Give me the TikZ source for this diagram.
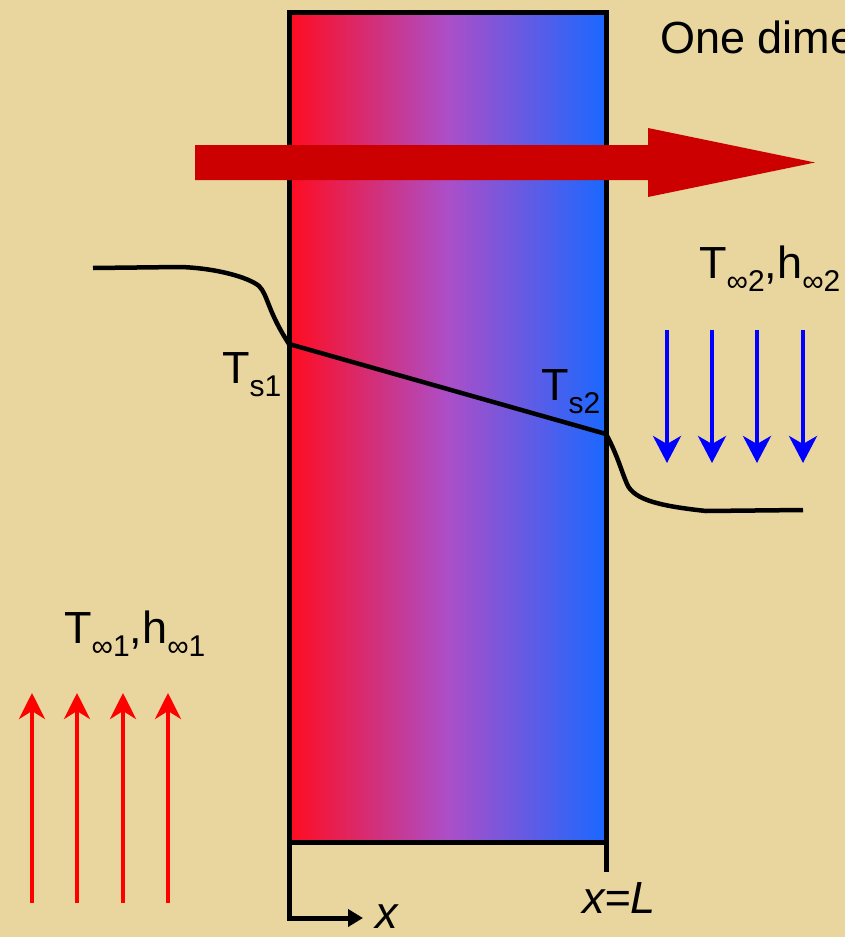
\documentclass[tikz,border=0pt]{standalone}
\usepackage{fontspec}
\setmainfont{Liberation Sans}
\usetikzlibrary{arrows.meta}
\definecolor{parch}{RGB}{233,214,158}
\definecolor{slabred}{RGB}{255,12,32}
\definecolor{slabmid}{RGB}{172,78,200}
\definecolor{slabblue}{RGB}{26,104,255}
\definecolor{flowred}{RGB}{204,0,0}
\definecolor{hotred}{RGB}{255,0,0}
\definecolor{coldblue}{RGB}{0,0,255}
\newcommand\lowsub[1]{\raisebox{-13pt}{\fontsize{30}{30}\selectfont #1}}
\begin{document}
\begin{tikzpicture}[x=1pt,y=-1pt,
  lbl/.style={inner sep=0pt, anchor=base west, font=\fontsize{45}{54}\selectfont},
  hotarrow/.style={draw=hotred, line width=4pt, -{Stealth[length=26pt,width=26pt,inset=8pt]}},
  coldarrow/.style={draw=coldblue, line width=4pt, -{Stealth[length=27pt,width=28pt,inset=8pt]}},
  profile/.style={draw=black, line width=4.5pt, line join=round},
  frame/.style={draw=black, line width=5pt}]
\fill[parch] (0,0) rectangle (845,937);
\useasboundingbox (0,0) rectangle (845,937);
% slab
\shade[left color=slabred, right color=slabblue, middle color=slabmid] (289,12) rectangle (606,842);
\draw[frame] (289,12) rectangle (606,842);
% axis
\coordinate (o) at (289,842);
\coordinate (ob) at (289,918);
\coordinate (xe) at (363,918);
\coordinate (lr) at (606,842);
\coordinate (lb) at (606,872);
\draw[frame, line join=miter, -{Triangle[length=15pt,width=17pt]}] (o) -- (ob) -- (xe);
\draw[frame] (lr) -- (lb);
% heat flow arrow
\fill[flowred] (195,145) -- (648,145) -- (648,128) -- (815,162.5) -- (648,197) -- (648,180) -- (195,180) -- cycle;
% temperature profile
\coordinate (s1) at (289,344);
\coordinate (s2) at (606,434);
\draw[profile] (93,268) -- (180,267) .. controls (215,268) and (248,277) .. (259,286)
  .. controls (268,295) and (267,310) .. (s1) -- (s2)
  .. controls (617,454) and (621,470) .. (627,484)
  .. controls (634,500) and (660,506) .. (706,511) -- (803,510);
% labels
\node[lbl] (title) at (660,53) {One dime};
\node[lbl] (ts1) at (222,383) {T\lowsub{s1}};
\node[lbl] (ts2) at (541,400) {T\lowsub{s2}};
\node[lbl] (tinf2) at (699,278) {T\lowsub{∞2},h\lowsub{∞2}};
\node[lbl] (tinf1) at (64,643) {T\lowsub{∞1},h\lowsub{∞1}};
\node[lbl, font=\fontsize{45}{54}\selectfont\itshape] (xl) at (375,928) {x};
\node[lbl, font=\fontsize{45}{54}\selectfont\itshape] (xL) at (582,913) {x=L};
% convection arrows
\foreach \x in {32,77,123,168} \draw[hotarrow] (\x,903) -- (\x,693);
\foreach \x in {667,712,757,803} \draw[coldarrow] (\x,330) -- (\x,463);
\end{tikzpicture}
\end{document}
